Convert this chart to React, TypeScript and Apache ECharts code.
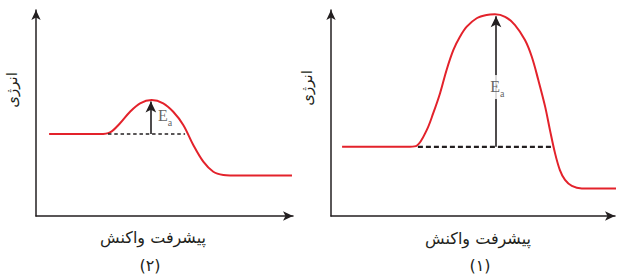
import React, { useEffect, useRef } from "react";
import * as echarts from "echarts";

// Reaction progress (0-100) vs energy (0-100), panel (2) – small barrier
const progress2 = [5.1, 24.9, 28.8, 32.7, 36.6, 40.5, 45.0, 49.5, 53.4, 57.3, 61.2, 65.1, 69.0, 72.9, 75.5, 99.6];
const energy2 = [39.8, 39.8, 40.6, 45.0, 50.6, 54.7, 56.3, 54.7, 50.6, 44.2, 34.5, 26.4, 21.5, 19.9, 19.7, 19.7];

// Panel (1) – large barrier
const progress1 = [3.9, 27.8, 30.3, 33.7, 36.0, 38.4, 40.7, 43.1, 45.4, 47.8, 51.3, 54.8, 57.7, 61.3, 64.8, 68.3, 70.7, 73.0, 75.4, 77.1, 78.9, 80.6, 82.4, 84.8, 88.3, 104.6];
const energy1 = [33.6, 33.6, 34.2, 41.7, 49.9, 59.6, 70.9, 80.6, 87.0, 91.9, 96.0, 97.6, 97.9, 96.7, 92.7, 85.4, 77.3, 66.0, 53.1, 41.7, 30.4, 22.3, 17.5, 14.6, 13.4, 13.4];

// Reactant level dashed lines and Ea arrows
const dashed2 = [[28.0, 39.8], [58.0, 39.8]];
const arrow2 = [[44.7, 39.8], [44.7, 55.6]];
const eaLabel2 = [50.2, 47.6];

const dashed1 = [[30.6, 33.6], [77.8, 33.6]];
const arrow1 = [[58.1, 33.6], [58.1, 97.0]];
const eaLabel1 = [58.6, 62.6];

const yLabel = "انرژی";
const xLabel = "پیشرفت واکنش";
const panelLabels = ["(۲)", "(۱)"];

const RED = "#e3222b";
const INK = "#231f20";
const FA = "DejaVu Sans";

function zip(xs: number[], ys: number[]) {
  return xs.map((x, i) => [x, ys[i]]);
}

function axis(gridIndex: number) {
  return {
    type: "value" as const,
    gridIndex,
    min: 0,
    max: 100,
    axisLine: { show: true, onZero: false, symbol: ["none", "arrow"], symbolSize: [7, 10], lineStyle: { color: INK, width: 1.5 } },
    axisTick: { show: false },
    axisLabel: { show: false },
    splitLine: { show: false },
  };
}

function panelSeries(
  idx: number,
  curve: number[][],
  dashed: number[][],
  arrow: number[][],
  label: number[],
  bg: boolean,
  dashW: number,
  dash: number[]
) {
  return [
    {
      type: "line",
      xAxisIndex: idx,
      yAxisIndex: idx,
      data: curve,
      smooth: 0.35,
      showSymbol: false,
      clip: false,
      lineStyle: { color: RED, width: 2 },
      silent: true,
    },
    {
      type: "line",
      xAxisIndex: idx,
      yAxisIndex: idx,
      data: dashed,
      showSymbol: false,
      lineStyle: { color: INK, width: dashW, type: dash },
      silent: true,
      z: 3,
      markLine: {
        silent: true,
        symbol: ["none", "arrow"],
        symbolSize: [8, 11],
        label: { show: false },
        lineStyle: { color: INK, width: 1.6, type: "solid" },
        data: [[{ coord: arrow[0] }, { coord: arrow[1] }]],
      },
    },
    {
      type: "scatter",
      xAxisIndex: idx,
      yAxisIndex: idx,
      data: [label],
      symbolSize: 0,
      silent: true,
      z: 5,
      label: {
        show: true,
        position: "inside",
        formatter: "{e|E}{s|a}",
        backgroundColor: bg ? "#ffffff" : "transparent",
        padding: bg ? [3, 1, 1, 1] : 0,
        rich: {
          e: { fontFamily: "Liberation Serif", fontSize: 16, color: "#3a3a3a", lineHeight: 15, verticalAlign: "top" },
          s: { fontFamily: "Liberation Serif", fontSize: 10, color: "#3a3a3a", lineHeight: 20, verticalAlign: "bottom" },
        },
      },
    },
  ];
}

export default function App() {
  const ref = useRef<HTMLDivElement>(null);
  useEffect(() => {
    if (!ref.current) return;
    const chart = echarts.init(ref.current, undefined, { renderer: "svg" });
    const txt = (x: number, y: number, text: string, size: number, rot = 0) => ({
      type: "text",
      x,
      y,
      rotation: rot,
      silent: true,
      style: { text, fontFamily: FA, fontSize: size, fill: INK, align: "center", verticalAlign: "middle" },
    });
    chart.setOption({
      animation: false,
      backgroundColor: "#ffffff",
      grid: [
        { left: 36, top: 10, width: 257, height: 206 },
        { left: 331, top: 10, width: 284, height: 206 },
      ],
      xAxis: [axis(0), axis(1)],
      yAxis: [axis(0), axis(1)],
      series: [
        ...panelSeries(0, zip(progress2, energy2), dashed2, arrow2, eaLabel2, false, 1.6, [3.5, 2.8]),
        ...panelSeries(1, zip(progress1, energy1), dashed1, arrow1, eaLabel1, true, 2.2, [5, 3]),
      ],
      graphic: [
        txt(12, 90, yLabel, 15, Math.PI / 2),
        txt(307, 88, yLabel, 15, Math.PI / 2),
        txt(153, 237, xLabel, 16),
        txt(478, 238, xLabel, 16),
        txt(150, 265, panelLabels[0], 16),
        txt(480, 265, panelLabels[1], 16),
      ],
    });
    return () => chart.dispose();
  }, []);
  return <div ref={ref} style={{ position: "absolute", left: 0, top: 0, width: 623, height: 279 }} />;
}
